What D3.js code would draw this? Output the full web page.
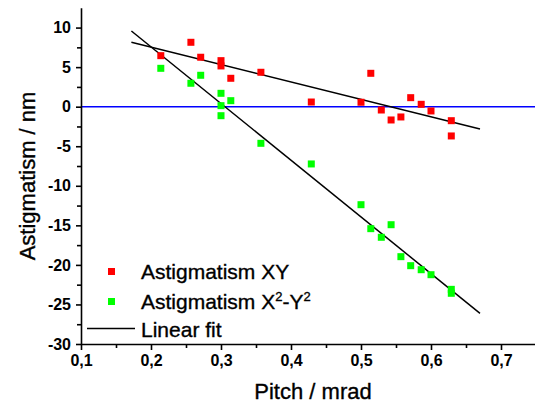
<!DOCTYPE html>
<html>
<head>
<meta charset="utf-8">
<script src="https://cdn.jsdelivr.net/npm/d3@7"></script>
<style>
  body { margin: 0; background: #fff; }
  svg { display: block; font-family: "Liberation Sans", Arial, sans-serif; }
  .tick text { font-weight: bold; font-size: 16px; fill: #000; }
  .axis path, .axis line { stroke: #000; stroke-width: 1.6px; }
  .lbl { fill: #000; stroke: #000; stroke-width: 0.35px; }
</style>
</head>
<body>
<div id="chart"></div>
<script>
var width = 535, height = 406;

// pitch (mrad) values
var pitchXY = [0.214, 0.257, 0.271, 0.300, 0.300, 0.314, 0.357, 0.429, 0.500, 0.514,
               0.529, 0.543, 0.557, 0.571, 0.586, 0.600, 0.629, 0.629];
var astigXY = [6.45, 8.14, 6.25, 5.82, 5.15, 3.59, 4.35, 0.59, 0.56, 4.22,
               -0.42, -1.68, -1.30, 1.14, 0.30, -0.54, -1.77, -3.70];

var pitchX2Y2 = [0.214, 0.257, 0.271, 0.300, 0.300, 0.300, 0.314, 0.357, 0.429, 0.500,
                 0.514, 0.529, 0.543, 0.557, 0.571, 0.586, 0.600, 0.629, 0.629];
var astigX2Y2 = [4.85, 2.96, 3.97, 1.69, 0.13, -1.14, 0.76, -4.63, -7.24, -12.39,
                 -15.42, -16.51, -14.92, -18.96, -20.10, -20.61, -21.24, -23.09, -23.59];

// linear fit end points [pitch, astigmatism]
var fitXY = [[0.172, 8.14], [0.670, -2.82]];
var fitX2Y2 = [[0.172, 9.57], [0.670, -26.12]];

var xTicks = [0.1, 0.2, 0.3, 0.4, 0.5, 0.6, 0.7];
var yTicks = [10, 5, 0, -5, -10, -15, -20, -25, -30];

var x = d3.scaleLinear().domain([0.1, 0.75]).range([81, 536]);
var y = d3.scaleLinear().domain([-30, 12.5]).range([344, 7.8]);

var svg = d3.select("#chart").append("svg")
  .attr("width", width)
  .attr("height", height);

var commaFmt = function(d) { return d3.format(".1f")(d).replace(".", ","); };

// minor ticks
svg.append("g")
  .attr("class", "axis")
  .attr("transform", "translate(0,344)")
  .call(d3.axisBottom(x).tickValues(d3.range(0.15, 0.75, 0.1)).tickSize(4).tickFormat(""))
  .select(".domain").remove();
svg.append("g")
  .attr("class", "axis")
  .attr("transform", "translate(81,0)")
  .call(d3.axisLeft(y).tickValues(d3.range(-27.5, 12.5, 5)).tickSize(4).tickFormat(""))
  .select(".domain").remove();

// zero line
svg.append("line")
  .attr("x1", x(0.1)).attr("x2", x(0.75))
  .attr("y1", y(0)).attr("y2", y(0))
  .style("stroke", "#0000ff")
  .style("stroke-width", 1.6);

// major axes
var xAxis = svg.append("g")
  .attr("class", "axis")
  .attr("transform", "translate(0,344)")
  .call(d3.axisBottom(x).tickValues(xTicks).tickSize(6).tickSizeOuter(0).tickPadding(5).tickFormat(commaFmt));

var yAxis = svg.append("g")
  .attr("class", "axis")
  .attr("transform", "translate(81,0)")
  .call(d3.axisLeft(y).tickValues(yTicks).tickSize(5).tickSizeOuter(0).tickPadding(5).tickFormat(d3.format("d")));
yAxis.selectAll(".tick text").text(function(d) { return d < 0 ? "-" + Math.abs(d) : d; });

// fit lines
var line = d3.line().x(function(d) { return x(d[0]); }).y(function(d) { return y(d[1]); });
[fitXY, fitX2Y2].forEach(function(f) {
  svg.append("path")
    .datum(f)
    .attr("d", line)
    .style("fill", "none")
    .style("stroke", "#000")
    .style("stroke-width", 1.5);
});

// points
var sq = 7;
function drawPoints(xs, ys, col) {
  svg.append("g").selectAll("rect")
    .data(xs.map(function(v, i) { return [v, ys[i]]; }))
    .enter()
    .append("rect")
    .attr("x", function(d) { return x(d[0]) - sq / 2; })
    .attr("y", function(d) { return y(d[1]) - sq / 2; })
    .attr("width", sq)
    .attr("height", sq)
    .style("fill", col);
}
drawPoints(pitchXY, astigXY, "#ff0000");
drawPoints(pitchX2Y2, astigX2Y2, "#00ff00");

// legend
var leg = svg.append("g");
leg.append("rect").attr("x", 108).attr("y", 268).attr("width", 7).attr("height", 7).style("fill", "#ff0000");
leg.append("rect").attr("x", 108).attr("y", 298).attr("width", 7).attr("height", 7).style("fill", "#00ff00");
leg.append("line").attr("x1", 87).attr("x2", 135).attr("y1", 328.5).attr("y2", 328.5)
  .style("stroke", "#000").style("stroke-width", 1.3);

leg.append("text").attr("class", "lbl").attr("x", 141).attr("y", 279).style("font-size", "21px").text("Astigmatism XY");
var t2 = leg.append("text").attr("class", "lbl").attr("x", 141).attr("y", 309).style("font-size", "21px");
t2.append("tspan").text("Astigmatism X");
t2.append("tspan").attr("dy", -8).style("font-size", "13px").text("2");
t2.append("tspan").attr("dy", 8).text("-Y");
t2.append("tspan").attr("dy", -8).style("font-size", "13px").text("2");
leg.append("text").attr("class", "lbl").attr("x", 141).attr("y", 337).style("font-size", "21px").text("Linear fit");

// axis titles
svg.append("text")
  .attr("class", "lbl")
  .attr("x", 313).attr("y", 399)
  .attr("text-anchor", "middle")
  .style("font-size", "22px")
  .text("Pitch / mrad");

svg.append("text")
  .attr("class", "lbl")
  .attr("transform", "translate(35,176) rotate(-90)")
  .attr("text-anchor", "middle")
  .style("font-size", "22px")
  .text("Astigmatism / nm");
</script>
</body>
</html>
